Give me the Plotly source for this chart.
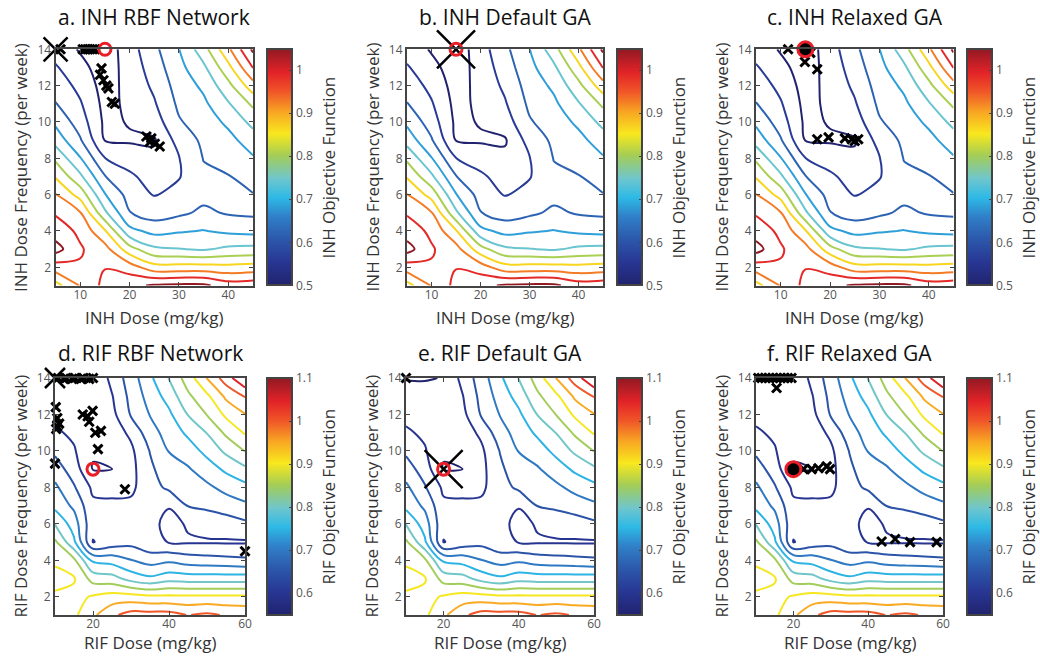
import plotly.graph_objects as go

FONT = "Open Sans"

# ---------------- data ----------------
INH_DOSE = [5, 10, 15, 20, 25, 30, 35, 40, 45]
INH_FREQ = list(range(1, 15))
# objective value, one list per dose (frequency 1..14)
INH_Z_BY_DOSE = [
    [0.83, 0.925, 1.02, 0.975, 0.945, 0.902, 0.845, 0.79, 0.73, 0.69, 0.652, 0.63, 0.605, 0.58],
    [0.903, 0.945, 0.955, 0.94, 0.903, 0.83, 0.76, 0.703, 0.655, 0.625, 0.605, 0.585, 0.565, 0.545],
    [0.965, 0.948, 0.92, 0.855, 0.76, 0.703, 0.652, 0.601, 0.548, 0.54, 0.535, 0.53, 0.525, 0.52],
    [0.99, 0.925, 0.82, 0.715, 0.652, 0.63, 0.61, 0.575, 0.545, 0.553, 0.56, 0.565, 0.57, 0.578],
    [1.005, 0.87, 0.76, 0.685, 0.625, 0.597, 0.575, 0.56, 0.545, 0.575, 0.595, 0.61, 0.625, 0.638],
    [1.01, 0.87, 0.752, 0.695, 0.64, 0.615, 0.597, 0.598, 0.62, 0.645, 0.66, 0.672, 0.685, 0.699],
    [1.01, 0.87, 0.745, 0.702, 0.66, 0.635, 0.64, 0.652, 0.66, 0.675, 0.69, 0.71, 0.74, 0.78],
    [0.975, 0.865, 0.76, 0.69, 0.645, 0.635, 0.648, 0.665, 0.685, 0.71, 0.745, 0.785, 0.835, 0.89],
    [0.98, 0.87, 0.765, 0.685, 0.64, 0.648, 0.67, 0.695, 0.725, 0.765, 0.81, 0.88, 0.952, 1.01],
]
INH_ZRANGE = [0.5, 1.048]
INH_LEVELS = [0.55, 1.0, 0.05]
INH_CB_TICKS = [0.5, 0.6, 0.7, 0.8, 0.9, 1.0]
INH_CB_TEXT = ["0.5", "0.6", "0.7", "0.8", "0.9", "1"]

RIF_DOSE = [10, 15, 20, 25, 30, 35, 40, 45, 50, 55, 60]
RIF_FREQ = list(range(1, 15))
RIF_Z_BY_DOSE = [
    [0.88, 0.895, 0.91, 0.895, 0.86, 0.798, 0.735, 0.71, 0.675, 0.64, 0.608, 0.585, 0.565, 0.548],
    [0.89, 0.885, 0.905, 0.86, 0.76, 0.725, 0.69, 0.655, 0.625, 0.605, 0.59, 0.575, 0.56, 0.548],
    [0.94, 0.905, 0.83, 0.74, 0.598, 0.612, 0.61, 0.59, 0.548, 0.553, 0.56, 0.56, 0.555, 0.551],
    [0.99, 0.92, 0.82, 0.73, 0.62, 0.615, 0.61, 0.585, 0.549, 0.565, 0.575, 0.585, 0.597, 0.615],
    [1.02, 0.92, 0.78, 0.702, 0.635, 0.62, 0.61, 0.59, 0.585, 0.59, 0.61, 0.655, 0.665, 0.675],
    [1.02, 0.91, 0.76, 0.68, 0.61, 0.615, 0.62, 0.63, 0.64, 0.652, 0.68, 0.702, 0.72, 0.74],
    [1.02, 0.91, 0.78, 0.69, 0.598, 0.585, 0.603, 0.66, 0.68, 0.702, 0.72, 0.74, 0.77, 0.802],
    [0.998, 0.91, 0.775, 0.675, 0.595, 0.605, 0.652, 0.67, 0.695, 0.725, 0.76, 0.802, 0.84, 0.875],
    [1.01, 0.91, 0.775, 0.67, 0.595, 0.62, 0.66, 0.69, 0.725, 0.765, 0.802, 0.852, 0.89, 0.952],
    [0.995, 0.91, 0.775, 0.665, 0.595, 0.625, 0.675, 0.715, 0.76, 0.81, 0.86, 0.91, 0.96, 1.025],
    [0.99, 0.91, 0.775, 0.66, 0.595, 0.64, 0.69, 0.735, 0.79, 0.852, 0.905, 0.948, 1.003, 1.1],
]
RIF_ZRANGE = [0.549, 1.1]
RIF_LEVELS = [0.55, 1.1, 0.05]
RIF_CB_TICKS = [0.6, 0.7, 0.8, 0.9, 1.0, 1.1]
RIF_CB_TEXT = ["0.6", "0.7", "0.8", "0.9", "1", "1.1"]

# optimisation results (markers)
A_SOL_X = [6.0, 10.5, 11.0, 11.5, 12.0, 12.5, 13.0, 14.3, 14.0, 14.7, 15.3, 15.7, 16.4, 17.0, 23.4, 24.4, 24.1, 25.1, 26.1]
A_SOL_Y = [14, 14, 14, 14, 14, 14, 14, 12.95, 12.6, 12.3, 12.0, 11.85, 11.1, 11.0, 9.2, 9.1, 8.9, 8.8, 8.65]
A_START = [[5], [14]]
A_BEST = [[15], [14]]

B_SOL_X = []
B_SOL_Y = []
B_START = [[15], [14]]
B_BEST = [[15], [14]]

C_SOL_X = [11.5, 14.5, 16.0, 14.9, 17.4, 17.4, 19.7, 23.0, 24.4, 25.0, 25.7]
C_SOL_Y = [14, 14, 13.8, 13.3, 12.9, 9.05, 9.15, 9.1, 9.05, 8.95, 9.05]
C_BEST = [[15], [14]]

D_SOL_X = [10.8, 11.5, 12.3, 13.0, 13.8, 14.5, 15.3, 16.0, 16.8, 17.5, 18.3, 19.0, 20.0,
           10.2, 10.6, 10.6, 11.1, 10.3, 17.3, 18.6, 19.9, 19.0, 20.6, 22.1, 21.3, 10.0, 28.4, 60.0]
D_SOL_Y = [14, 14.05, 13.95, 14, 14.05, 13.95, 14, 14.05, 13.95, 14, 14.05, 13.95, 14,
           12.4, 11.8, 11.35, 11.5, 11.2, 12.0, 11.9, 12.2, 11.6, 11.0, 11.1, 10.1, 9.3, 7.9, 4.5]
D_START = [[10], [14]]
D_BEST = [[20], [9]]

E_SOL_X = [10.0]
E_SOL_Y = [14]
E_START = [[20], [9]]
E_BEST = [[20], [9]]

F_SOL_X = [10.6, 11.5, 12.5, 13.5, 14.5, 15.5, 16.5, 17.5, 18.5, 19.5, 15.5,
           22.7, 24.9, 26.7, 28.9, 29.8, 43.6, 47.2, 51.2, 58.3]
F_SOL_Y = [14, 14, 14, 14, 14, 14, 14, 14, 14, 14, 13.45,
           9.0, 9.0, 9.05, 9.15, 9.0, 5.03, 5.17, 5.0, 5.0]
F_BEST = [[20], [9]]

TITLES = ["a. INH RBF Network", "b. INH Default GA", "c. INH Relaxed GA",
          "d. RIF RBF Network", "e. RIF Default GA", "f. RIF Relaxed GA"]

# ---------------- styling ----------------
W, H = 1040, 659
COLORSCALE = [
    [0.00, "rgb(33,35,110)"],
    [0.10, "rgb(40,55,148)"],
    [0.20, "rgb(44,90,172)"],
    [0.29, "rgb(48,128,200)"],
    [0.37, "rgb(45,185,230)"],
    [0.45, "rgb(110,198,205)"],
    [0.55, "rgb(165,205,85)"],
    [0.64, "rgb(248,232,30)"],
    [0.73, "rgb(248,168,35)"],
    [0.82, "rgb(240,85,40)"],
    [0.90, "rgb(226,35,40)"],
    [1.00, "rgb(145,25,35)"],
]
FRAME = "#444444"
TICKCOL = "#555555"
LABCOL = "#333333"
RED = "rgb(232,30,40)"


def px_x(p):
    return p / W


def px_y(p):
    return 1 - p / H


def rows(cols):
    return [list(r) for r in zip(*cols)]


# panel geometry in pixels: (left, right, top, bottom), colorbar left
PANELS = [
    dict(x=(55.6, 253.0), y=(49.3, 285.5), cb=267),
    dict(x=(407.0, 603.0), y=(49.3, 285.5), cb=617),
    dict(x=(756.0, 953.5), y=(49.3, 285.5), cb=967),
    dict(x=(55.0, 245.0), y=(378.0, 615.0), cb=267),
    dict(x=(406.0, 594.0), y=(378.0, 615.0), cb=617),
    dict(x=(756.0, 943.0), y=(378.0, 615.0), cb=967),
]

fig = go.Figure()
layout = dict(
    width=W, height=H, margin=dict(l=0, r=0, t=0, b=0, autoexpand=False),
    paper_bgcolor="white", plot_bgcolor="white",
    font=dict(family=FONT, color=LABCOL),
    showlegend=False, annotations=[],
)


def ann(text, x, y, size, color=LABCOL, angle=0):
    layout["annotations"].append(dict(
        text=text, xref="paper", yref="paper", x=px_x(x), y=px_y(y),
        xanchor="center", yanchor="middle", showarrow=False, textangle=angle,
        font=dict(family=FONT, size=size, color=color),
    ))


for k in range(6):
    p = PANELS[k]
    xa, ya = f"x{k + 1}", f"y{k + 1}"
    inh = k < 3
    dose = INH_DOSE if inh else RIF_DOSE
    freq = INH_FREQ if inh else RIF_FREQ
    zc = INH_Z_BY_DOSE if inh else RIF_Z_BY_DOSE
    zr = INH_ZRANGE if inh else RIF_ZRANGE
    lv = INH_LEVELS if inh else RIF_LEVELS
    drug = "INH" if inh else "RIF"

    fig.add_trace(go.Contour(
        x=dose, y=freq, z=rows(zc), xaxis=xa, yaxis=ya,
        zmin=zr[0], zmax=zr[1], colorscale=COLORSCALE, showscale=False,
        contours=dict(coloring="lines", start=lv[0], end=lv[1], size=lv[2]),
        line=dict(width=2), hoverinfo="skip",
    ))
    # colour bar (continuous gradient)
    ydom = (px_y(p["y"][1]), px_y(p["y"][0]))
    fig.add_trace(go.Scatter(
        x=[dose[0]], y=[freq[0]], xaxis=xa, yaxis=ya, mode="markers", hoverinfo="skip",
        marker=dict(size=0.1, color=[zr[0]], cmin=zr[0], cmax=zr[1], colorscale=COLORSCALE,
                    showscale=True, opacity=0,
                    colorbar=dict(
                        x=px_x(p["cb"]), xanchor="left", xpad=0, ypad=0,
                        y=(ydom[0] + ydom[1]) / 2, yanchor="middle",
                        len=ydom[1] - ydom[0], lenmode="fraction", thickness=25,
                        outlinewidth=2, outlinecolor=FRAME,
                        tickvals=INH_CB_TICKS if inh else RIF_CB_TICKS,
                        ticktext=INH_CB_TEXT if inh else RIF_CB_TEXT,
                        ticks="inside", ticklen=4, tickcolor=FRAME,
                        tickfont=dict(family=FONT, size=12, color=TICKCOL),
                    )),
    ))

    # markers
    L = "ABCDEF"[k]
    sx = globals().get(f"{L}_SOL_X", [])
    sy = globals().get(f"{L}_SOL_Y", [])
    if sx:
        fig.add_trace(go.Scatter(
            x=sx, y=sy, xaxis=xa, yaxis=ya, mode="markers", cliponaxis=False, hoverinfo="skip",
            marker=dict(symbol="x-thin", size=9, color="black", line=dict(width=3, color="black")),
        ))
    start = globals().get(f"{L}_START")
    if start:
        big = {0: 24, 1: 38, 3: 20, 4: 38}[k]
        fig.add_trace(go.Scatter(
            x=start[0], y=start[1], xaxis=xa, yaxis=ya, mode="markers", cliponaxis=False,
            hoverinfo="skip",
            marker=dict(symbol="x-thin", size=big, color="black", line=dict(width=2.5, color="black")),
        ))
    best = globals().get(f"{L}_BEST")
    if k in (2, 5):
        fig.add_trace(go.Scatter(
            x=best[0], y=best[1], xaxis=xa, yaxis=ya, mode="markers", cliponaxis=False,
            hoverinfo="skip",
            marker=dict(symbol="circle", size=15, color="black", line=dict(width=3, color=RED)),
        ))
    else:
        fig.add_trace(go.Scatter(
            x=best[0], y=best[1], xaxis=xa, yaxis=ya, mode="markers", cliponaxis=False,
            hoverinfo="skip",
            marker=dict(symbol="circle-open", size=12, color=RED, line=dict(width=3, color=RED)),
        ))

    axis_common = dict(
        showgrid=False, zeroline=False, showline=True, linecolor=FRAME, linewidth=2,
        mirror="ticks", ticks="inside", ticklen=4, tickwidth=1, tickcolor=FRAME,
        tickfont=dict(family=FONT, size=12, color=TICKCOL), automargin=False,
    )
    layout[f"xaxis{k + 1}"] = dict(
        axis_common, domain=[px_x(p["x"][0]), px_x(p["x"][1])], anchor=ya,
        range=[5, 45] if inh else [10, 60],
        tickvals=[10, 20, 30, 40] if inh else [20, 40, 60],
        ticklabelstandoff=-3,
    )
    layout[f"yaxis{k + 1}"] = dict(
        axis_common, domain=[ydom[0], ydom[1]], anchor=xa, range=[1, 14],
        tickvals=[2, 4, 6, 8, 10, 12, 14],
    )

    xc = (p["x"][0] + p["x"][1]) / 2
    yc = (p["y"][0] + p["y"][1]) / 2
    ann(TITLES[k], xc, 17 if inh else 353, 21, "#111111")
    ann(f"{drug} Dose (mg/kg)", xc, 317 if inh else 642, 17)
    ann(f"{drug} Dose Frequency (per week)", p["x"][0] - 35, yc, 17, angle=-90)
    ann(f"{drug} Objective Function", p["cb"] + 61, yc, 17, angle=-90)

fig.update_layout(**layout)
fig.write_html("out.html", config={"displayModeBar": False},
               post_script="document.body.style.margin='0px';")
